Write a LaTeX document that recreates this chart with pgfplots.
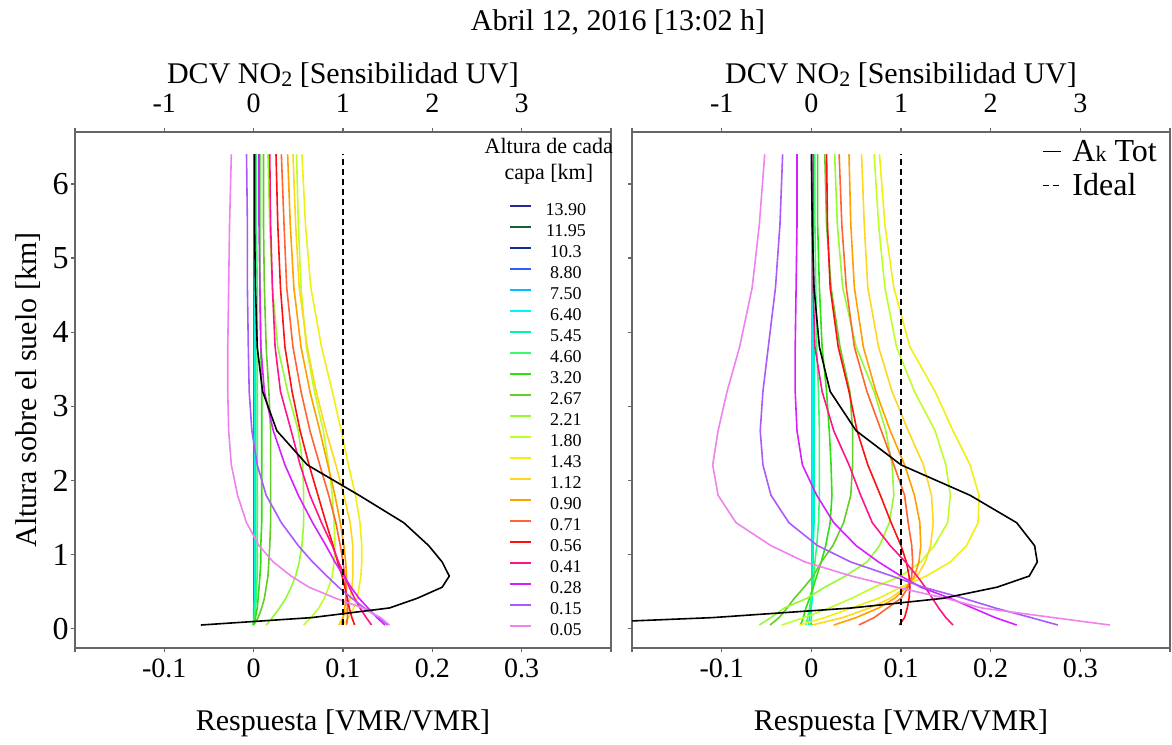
\documentclass[border=0pt]{standalone}
\usepackage{fontspec}
\setmainfont{Liberation Serif}
\usepackage{pgfplots}
\usepackage{pgfplotstable}
\pgfplotsset{compat=1.18}

\definecolor{c1390}{RGB}{ 40, 40,150}
\definecolor{c1195}{RGB}{ 25, 95, 55}
\definecolor{c103} {RGB}{ 15, 45,150}
\definecolor{c880} {RGB}{ 45, 95,255}
\definecolor{c750} {RGB}{  0,190,255}
\definecolor{c640} {RGB}{  0,245,245}
\definecolor{c545} {RGB}{  0,245,170}
\definecolor{c460} {RGB}{ 60,250,110}
\definecolor{c320} {RGB}{ 45,225, 15}
\definecolor{c267} {RGB}{100,205, 40}
\definecolor{c221} {RGB}{150,250, 50}
\definecolor{c180} {RGB}{190,255, 40}
\definecolor{c143} {RGB}{240,240, 20}
\definecolor{c112} {RGB}{255,215, 30}
\definecolor{c090} {RGB}{255,160,  0}
\definecolor{c071} {RGB}{255,100, 50}
\definecolor{c056} {RGB}{255, 15, 15}
\definecolor{c041} {RGB}{255, 20,140}
\definecolor{c028} {RGB}{215, 30,255}
\definecolor{c015} {RGB}{170, 90,250}
\definecolor{c005} {RGB}{238,130,238}

% rows: altitude [km]; columns: response of each layer, ak = A_k total
\pgfplotstableread{
y    c1390 c1195 c103 c880 c750  c640  c545   c460   c320  c267  c221  c180  c143  c112  c090  c071  c056  c041  c028  c015   c005   ak
0.05 0 0 0 0 0.000 0.000 -0.001 -0.001 0.000 0.000 0.014 0.056 0.100 0.095 0.098 0.104 0.113 0.132 0.147 0.150 0.152 -0.059
0.15 0 0 0 0 0.000 0.001 0.001 0.001 0.002 0.005 0.021 0.064 0.106 0.100 0.100 0.105 0.110 0.126 0.138 0.140 0.142 0.065
0.28 0 0 0 0 0.000 0.001 0.001 0.002 0.004 0.009 0.029 0.073 0.112 0.105 0.102 0.105 0.107 0.119 0.128 0.124 0.122 0.152
0.41 0 0 0 0 0.001 0.001 0.002 0.003 0.005 0.012 0.036 0.079 0.116 0.108 0.103 0.104 0.105 0.113 0.118 0.110 0.092 0.183
0.56 0 0 0 0 0.001 0.001 0.002 0.003 0.006 0.014 0.042 0.084 0.118 0.110 0.104 0.103 0.102 0.107 0.109 0.095 0.062 0.211
0.71 0 0 0 0 0.001 0.001 0.002 0.004 0.007 0.016 0.047 0.088 0.120 0.111 0.104 0.102 0.099 0.102 0.101 0.082 0.042 0.219
0.90 0 0 0 0 0.001 0.001 0.002 0.004 0.008 0.017 0.051 0.090 0.121 0.111 0.103 0.100 0.094 0.095 0.091 0.066 0.022 0.211
1.12 0 0 0 0 0.001 0.001 0.002 0.004 0.008 0.018 0.054 0.091 0.121 0.111 0.101 0.097 0.089 0.088 0.081 0.050 0.006 0.196
1.43 0 0 0 0 0.001 0.001 0.002 0.004 0.009 0.019 0.056 0.090 0.119 0.108 0.097 0.092 0.081 0.076 0.066 0.031 -0.008 0.168
1.80 0 0 0 0 0.001 0.001 0.002 0.004 0.009 0.019 0.056 0.088 0.114 0.101 0.091 0.084 0.072 0.063 0.050 0.014 -0.018 0.118
2.21 0 0 0 0 0.001 0.001 0.002 0.004 0.009 0.019 0.055 0.084 0.106 0.092 0.083 0.074 0.062 0.052 0.035 0.004 -0.025 0.060
2.67 0 0 0 0 0.001 0.001 0.002 0.004 0.009 0.019 0.050 0.078 0.098 0.081 0.074 0.063 0.052 0.042 0.022 -0.002 -0.028 0.026
3.20 0 0 0 0 0.001 0.001 0.002 0.004 0.009 0.017 0.038 0.068 0.088 0.070 0.063 0.053 0.043 0.030 0.012 -0.005 -0.029 0.010
3.80 0 0 0 0 0.001 0.001 0.002 0.004 0.008 0.014 0.027 0.059 0.076 0.060 0.053 0.044 0.035 0.024 0.008 -0.006 -0.029 0.004
4.60 0 0 0 0 0.001 0.001 0.002 0.004 0.007 0.012 0.021 0.053 0.064 0.051 0.045 0.037 0.030 0.021 0.007 -0.007 -0.028 0.002
5.45 0 0 0 0 0.001 0.001 0.002 0.003 0.007 0.011 0.018 0.050 0.058 0.047 0.041 0.034 0.027 0.019 0.006 -0.007 -0.027 0.001
6.40 0 0 0 0 0.001 0.001 0.002 0.003 0.007 0.011 0.016 0.048 0.054 0.044 0.038 0.031 0.025 0.018 0.006 -0.008 -0.025 0.001
}\datL

\pgfplotstableread{
y    c1390 c1195 c103 c880 c750 c640  c545   c460   c320   c267   c221   c180   c143   c112  c090  c071  c056  c041  c028   c015   c005   ak
0.05 0 0 0 0 0 -0.001 -0.003 -0.006 -0.012 -0.046 -0.058 -0.033 -0.013 0.001 0.025 0.053 0.098 0.158 0.229 0.275 0.333 -0.31
0.15 0 0 0 0 0 0.000 -0.002 -0.004 -0.009 -0.036 -0.045 -0.008 0.015 0.035 0.050 0.070 0.104 0.150 0.205 0.245 0.270 -0.11
0.28 0 0 0 0 0 0.000 -0.001 -0.002 -0.006 -0.027 -0.030 0.020 0.045 0.065 0.075 0.085 0.107 0.142 0.180 0.205 0.190 0.045
0.41 0 0 0 0 0 0.001 0.000 0.000 -0.002 -0.019 -0.005 0.045 0.075 0.088 0.093 0.100 0.109 0.135 0.155 0.170 0.150 0.147
0.56 0 0 0 0 0 0.001 0.001 0.002 0.002 -0.008 0.015 0.070 0.100 0.105 0.106 0.108 0.110 0.127 0.122 0.125 0.095 0.207
0.71 0 0 0 0 0 0.001 0.001 0.003 0.006 0.002 0.038 0.100 0.128 0.118 0.115 0.112 0.109 0.118 0.100 0.090 0.045 0.243
0.90 0 0 0 0 0 0.001 0.002 0.004 0.011 0.011 0.062 0.122 0.155 0.127 0.120 0.113 0.106 0.105 0.075 0.044 -0.007 0.252
1.12 0 0 0 0 0 0.001 0.002 0.006 0.016 0.024 0.076 0.137 0.173 0.133 0.122 0.112 0.100 0.088 0.050 0.007 -0.045 0.249
1.43 0 0 0 0 0 0.001 0.003 0.008 0.021 0.036 0.087 0.152 0.186 0.136 0.121 0.108 0.089 0.068 0.025 -0.025 -0.084 0.229
1.80 0 0 0 0 0 0.001 0.003 0.009 0.023 0.044 0.092 0.155 0.187 0.134 0.115 0.104 0.077 0.055 0.006 -0.045 -0.104 0.177
2.21 0 0 0 0 0 0.001 0.003 0.009 0.022 0.046 0.090 0.150 0.177 0.125 0.104 0.092 0.063 0.042 -0.010 -0.054 -0.110 0.100
2.67 0 0 0 0 0 0.001 0.003 0.009 0.020 0.046 0.083 0.138 0.158 0.108 0.088 0.078 0.051 0.025 -0.016 -0.057 -0.104 0.050
3.20 0 0 0 0 0 0.001 0.003 0.008 0.017 0.043 0.070 0.115 0.138 0.090 0.072 0.062 0.042 0.012 -0.018 -0.054 -0.094 0.021
3.80 0 0 0 0 0 0.001 0.003 0.006 0.012 0.032 0.050 0.095 0.110 0.075 0.058 0.048 0.030 0.004 -0.018 -0.048 -0.080 0.009
4.60 0 0 0 0 0 0.001 0.002 0.005 0.009 0.022 0.035 0.082 0.092 0.063 0.048 0.039 0.021 0.002 -0.017 -0.040 -0.066 0.003
5.45 0 0 0 0 0 0.001 0.002 0.004 0.007 0.017 0.029 0.075 0.082 0.059 0.044 0.034 0.018 0.002 -0.016 -0.035 -0.058 0.001
6.40 0 0 0 0 0 0.001 0.002 0.004 0.007 0.015 0.026 0.070 0.076 0.056 0.042 0.031 0.017 0.002 -0.016 -0.032 -0.052 0.000
}\datR

\newcommand{\lblfont}{\fontsize{15}{15}\selectfont}
\newcommand{\tckfont}{\fontsize{14}{14}\selectfont}

\pgfplotsset{
  panel/.style={
    scale only axis,
    width=268pt, height=258pt,
    xmin=-0.2, xmax=0.4, ymin=-0.26, ymax=6.70,
    xtick={-0.2,-0.1,0,0.1,0.2,0.3,0.4},
    xticklabels={,-0.1,0,0.1,0.2,0.3,},
    ytick={0,1,2,3,4,5,6},
    xtick pos=left, ytick pos=left,
    tick align=outside, major tick length=2pt,
    axis line style={draw=black!60, line width=0.8pt},
    tick style={draw=black!60, line width=0.6pt},
    xticklabel style={font=\tckfont},
    yticklabel style={font=\fontsize{16}{16}\selectfont, inner xsep=1pt},
    xlabel={Respuesta [VMR/VMR]},
    xlabel style={font=\lblfont, at={(axis description cs:0.5,0)}, anchor=center, yshift=-37.5pt},
    clip mode=individual,
    every axis plot/.append style={line width=0.8pt},
  },
  toppanel/.style={
    scale only axis,
    width=268pt, height=258pt,
    xmin=-2, xmax=4, ymin=0, ymax=1,
    axis x line*=top, axis y line=none,
    xtick={-2,-1,0,1,2,3,4},
    xticklabels={,-1,0,1,2,3,},
    tick align=outside, major tick length=2pt,
    axis line style={draw=black!60, line width=0.8pt},
    tick style={draw=black!60, line width=0.6pt},
    xticklabel style={font=\tckfont, yshift=4pt},
    xlabel={DCV NO\raisebox{-0.25ex}{\fontsize{11}{11}\selectfont 2} [Sensibilidad UV]},
    xlabel style={font=\lblfont, at={(axis description cs:0.5,1)}, anchor=center, yshift=28.5pt},
  },
}

\begin{document}
\begin{tikzpicture}
% ---------------- left panel ----------------
\begin{axis}[
    panel,
    ylabel={Altura sobre el suelo [km]},
    ylabel style={font=\lblfont, at={(axis description cs:0,0.5)}, anchor=center, yshift=23.5pt},
    yticklabels={0,1,2,3,4,5,6},
    legend style={
        draw=none, fill=none,
        at={(axis description cs:0.808,0.866)}, anchor=north west,
        inner sep=0pt, row sep=0pt,
        font=\fontsize{9}{10}\selectfont,
        nodes={inner sep=0pt, text height=7pt, text depth=3.5pt},
        /tikz/every odd column/.append style={column sep=7pt},
    },
    legend image code/.code={\draw[#1, line width=1.1pt] (0pt,3pt) -- (10.5pt,3pt);},
]
\addplot[c1390] table[x=c1390,y=y]{\datL}; \addlegendentry{13.90}
\addplot[c1195] table[x=c1195,y=y]{\datL}; \addlegendentry{11.95}
\addplot[c103]  table[x=c103,y=y]{\datL};  \addlegendentry{10.3}
\addplot[c880]  table[x=c880,y=y]{\datL};  \addlegendentry{8.80}
\addplot[c750]  table[x=c750,y=y]{\datL};  \addlegendentry{7.50}
\addplot[c640]  table[x=c640,y=y]{\datL};  \addlegendentry{6.40}
\addplot[c545]  table[x=c545,y=y]{\datL};  \addlegendentry{5.45}
\addplot[c460]  table[x=c460,y=y]{\datL};  \addlegendentry{4.60}
\addplot[c320]  table[x=c320,y=y]{\datL};  \addlegendentry{3.20}
\addplot[c267]  table[x=c267,y=y]{\datL};  \addlegendentry{2.67}
\addplot[c221]  table[x=c221,y=y]{\datL};  \addlegendentry{2.21}
\addplot[c180]  table[x=c180,y=y]{\datL};  \addlegendentry{1.80}
\addplot[c143]  table[x=c143,y=y]{\datL};  \addlegendentry{1.43}
\addplot[c112]  table[x=c112,y=y]{\datL};  \addlegendentry{1.12}
\addplot[c090]  table[x=c090,y=y]{\datL};  \addlegendentry{0.90}
\addplot[c071]  table[x=c071,y=y]{\datL};  \addlegendentry{0.71}
\addplot[c056]  table[x=c056,y=y]{\datL};  \addlegendentry{0.56}
\addplot[c041]  table[x=c041,y=y]{\datL};  \addlegendentry{0.41}
\addplot[c028]  table[x=c028,y=y]{\datL};  \addlegendentry{0.28}
\addplot[c015]  table[x=c015,y=y]{\datL};  \addlegendentry{0.15}
\addplot[c005]  table[x=c005,y=y]{\datL};  \addlegendentry{0.05}
\addplot[black, forget plot] table[x=ak,y=y]{\datL};
\addplot[black, dash pattern=on 3pt off 2pt, forget plot] coordinates {(0.1,0.05) (0.1,6.4)};
\node[font=\fontsize{11}{13}\selectfont, align=center] at (axis description cs:0.884,0.944) {Altura de cada\\capa [km]};
\node[font=\fontsize{15}{15}\selectfont, yshift=55pt] at (axis description cs:1.013,1) {Abril 12, 2016 [13:02 h]};
\end{axis}
\begin{axis}[toppanel]
\end{axis}

% ---------------- right panel ----------------
\begin{axis}[
    panel,
    at={(278.5pt,0pt)}, anchor=south west,
    width=269pt,
    yticklabels={},
    legend style={
        draw=none, fill=none,
        at={(axis description cs:0.978,0.988)}, anchor=north east,
        inner sep=0pt, row sep=2pt,
        font=\fontsize{16}{16}\selectfont,
        nodes={inner sep=0.5pt, text height=11pt, text depth=3pt},
        /tikz/every odd column/.append style={column sep=5pt},
        cells={anchor=west},
    },
    legend image code/.code={\draw[#1] (0pt,1pt) -- (9pt,1pt);},
]
\addplot[c1390, forget plot] table[x=c1390,y=y]{\datR};
\addplot[c1195, forget plot] table[x=c1195,y=y]{\datR};
\addplot[c103,  forget plot] table[x=c103,y=y]{\datR};
\addplot[c880,  forget plot] table[x=c880,y=y]{\datR};
\addplot[c750,  forget plot] table[x=c750,y=y]{\datR};
\addplot[c640,  forget plot] table[x=c640,y=y]{\datR};
\addplot[c545,  forget plot] table[x=c545,y=y]{\datR};
\addplot[c460,  forget plot] table[x=c460,y=y]{\datR};
\addplot[c320,  forget plot] table[x=c320,y=y]{\datR};
\addplot[c267,  forget plot] table[x=c267,y=y]{\datR};
\addplot[c221,  forget plot] table[x=c221,y=y]{\datR};
\addplot[c180,  forget plot] table[x=c180,y=y]{\datR};
\addplot[c143,  forget plot] table[x=c143,y=y]{\datR};
\addplot[c112,  forget plot] table[x=c112,y=y]{\datR};
\addplot[c090,  forget plot] table[x=c090,y=y]{\datR};
\addplot[c071,  forget plot] table[x=c071,y=y]{\datR};
\addplot[c056,  forget plot] table[x=c056,y=y]{\datR};
\addplot[c041,  forget plot] table[x=c041,y=y]{\datR};
\addplot[c028,  forget plot] table[x=c028,y=y]{\datR};
\addplot[c015,  forget plot] table[x=c015,y=y]{\datR};
\addplot[c005,  forget plot] table[x=c005,y=y]{\datR};
\addplot[black] table[x=ak,y=y]{\datR};
\addlegendentry{A{\fontsize{11}{11}\selectfont k} Tot}
\addplot[black, dash pattern=on 3pt off 2pt] coordinates {(0.1,0.05) (0.1,6.4)};
\addlegendentry{Ideal}
\end{axis}
\begin{axis}[toppanel, at={(278.5pt,0pt)}, anchor=south west, width=269pt]
\end{axis}

\pgfresetboundingbox
\useasboundingbox (-37.5pt,-48pt) rectangle (548.5pt,324pt);
\end{tikzpicture}
\end{document}
